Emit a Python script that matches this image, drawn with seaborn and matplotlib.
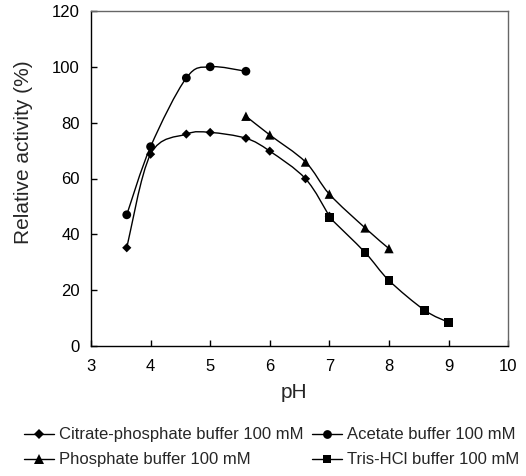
import numpy as np
import pandas as pd
import matplotlib
matplotlib.use("Agg")
import matplotlib.pyplot as plt
from matplotlib.path import Path
from matplotlib.patches import PathPatch
from matplotlib.lines import Line2D
import seaborn as sns

# values
CITRATE_PH = [3.6, 4.0, 4.6, 5.0, 5.6, 6.0, 6.6, 7.0]
CITRATE_ACT = [35.2, 68.7, 75.9, 76.5, 74.4, 69.8, 59.9, 46.5]
ACETATE_PH = [3.6, 4.0, 4.6, 5.0, 5.6]
ACETATE_ACT = [47.0, 71.4, 96.0, 100.0, 98.4]
PHOSPHATE_PH = [5.6, 6.0, 6.6, 7.0, 7.6, 8.0]
PHOSPHATE_ACT = [82.3, 75.6, 65.9, 54.4, 42.3, 34.9]
TRIS_PH = [7.0, 7.6, 8.0, 8.6, 9.0]
TRIS_ACT = [46.1, 33.5, 23.5, 12.8, 8.5]

LABELS = ["Citrate-phosphate buffer 100 mM", "Acetate buffer 100 mM",
          "Phosphate buffer 100 mM", "Tris-HCl buffer 100 mM"]
X_TICKS = [3, 4, 5, 6, 7, 8, 9, 10]
Y_TICKS = [0, 20, 40, 60, 80, 100, 120]

FONT = 12
LABEL_FONT = 15
LINE_W = 1.0


def smooth_path(xs, ys):
    # Catmull-Rom style cubic Bezier through the points (Excel "smoothed line")
    pts = np.column_stack([xs, ys]).astype(float)
    n = len(pts)
    verts = [pts[0]]
    codes = [Path.MOVETO]
    for i in range(n - 1):
        p0 = pts[max(i - 1, 0)]
        p1 = pts[i]
        p2 = pts[i + 1]
        p3 = pts[min(i + 2, n - 1)]
        verts += [p1 + (p2 - p0) / 6, p2 - (p3 - p1) / 6, p2]
        codes += [Path.CURVE4] * 3
    return Path(verts, codes)


def main():
    sns.set_style("ticks")
    plt.rcParams.update({
        "font.family": ["Liberation Sans", "DejaVu Sans"],
        "font.size": FONT,
    })
    fig = plt.figure(figsize=(5.26, 4.76), dpi=100)
    ax = fig.add_axes([0.173, 0.273, 0.793, 0.704])

    series = [
        (CITRATE_PH, CITRATE_ACT, "D", 22),
        (ACETATE_PH, ACETATE_ACT, "o", 40),
        (PHOSPHATE_PH, PHOSPHATE_ACT, "^", 46),
        (TRIS_PH, TRIS_ACT, "s", 40),
    ]
    handles = []
    for (xs, ys, mk, s), lab in zip(series, LABELS):
        ax.add_patch(PathPatch(smooth_path(xs, ys), facecolor="none",
                               edgecolor="black", lw=LINE_W, zorder=2))
        df = pd.DataFrame({"pH": xs, "act": ys})
        sns.scatterplot(data=df, x="pH", y="act", marker=mk, s=s,
                        color="black", edgecolor="none", linewidth=0,
                        legend=False, zorder=3, ax=ax)
        handles.append(Line2D([0], [0], color="black", lw=LINE_W, marker=mk,
                              markersize=np.sqrt(s), markeredgewidth=0,
                              label=lab))

    ax.set_xlim(3, 10)
    ax.set_ylim(0, 120)
    ax.set_xticks(X_TICKS)
    ax.set_yticks(Y_TICKS)
    ax.set_xlabel("pH", fontsize=LABEL_FONT)
    ax.set_ylabel("Relative activity (%)", fontsize=LABEL_FONT)
    ax.xaxis.set_label_coords(0.486, -0.110)
    ax.yaxis.set_label_coords(-0.139, 0.579)
    ax.tick_params(axis="both", direction="in", length=4, width=1,
                   labelsize=FONT, colors="black")
    ax.tick_params(axis="x", pad=9)
    ax.tick_params(axis="y", pad=8)
    for side, spine in ax.spines.items():
        spine.set_linewidth(1.0)
        spine.set_color("black" if side in ("left", "bottom") else "#666666")

    # legend fills row by row: citrate, acetate / phosphate, tris
    order = [0, 2, 1, 3]
    fig.legend(handles=[handles[i] for i in order], loc="upper left",
               bbox_to_anchor=(0.045, 0.102), ncol=2, frameon=False,
               fontsize=FONT, handlelength=1.8, handletextpad=0.3,
               columnspacing=0.5, labelspacing=0.6,
               borderpad=0, borderaxespad=0)

    fig.savefig("out.png", dpi=100)
    plt.close(fig)


if __name__ == "__main__":
    main()
